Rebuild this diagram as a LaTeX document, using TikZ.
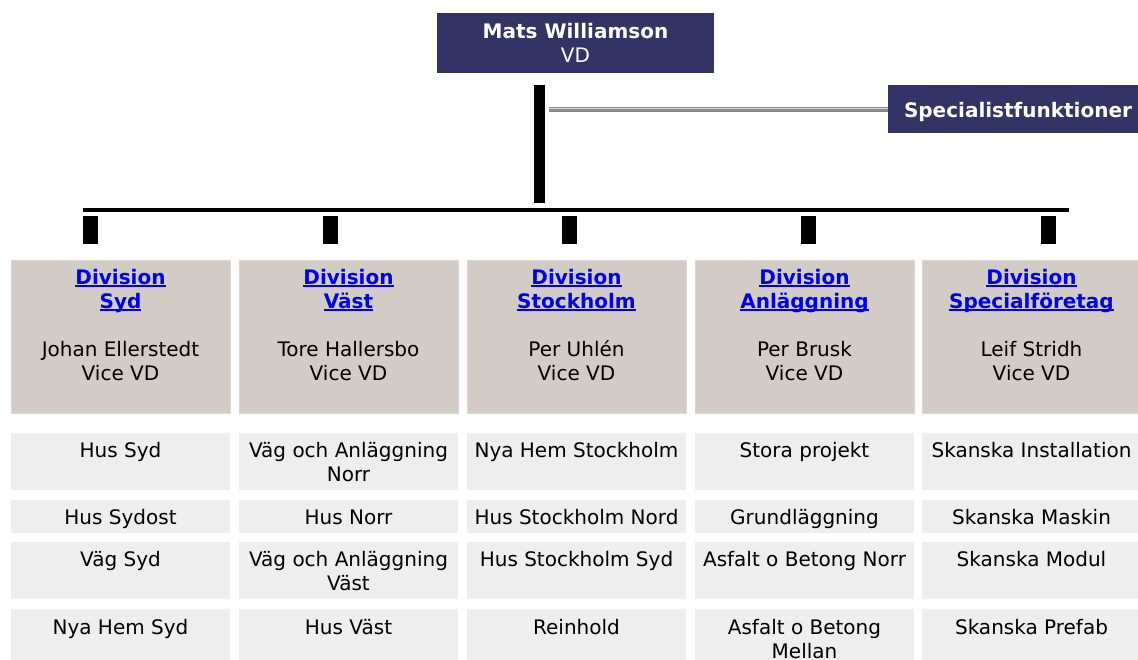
\documentclass[tikz,border=0pt]{standalone}
\usepackage{fontspec}
\setmainfont{DejaVu Sans}
\definecolor{navy}{HTML}{333366}
\definecolor{divfill}{HTML}{D3CBC6}
\definecolor{divedge}{HTML}{DCD6D2}
\definecolor{cellfill}{HTML}{EEEEEE}
\definecolor{linkblue}{HTML}{0000EE}
\definecolor{linkgray}{HTML}{8A8A8A}
\definecolor{linklight}{HTML}{D8D8D8}
\newcommand\cellfont{\fontsize{20}{24}\selectfont}
\newcommand\lnk[1]{{\bfseries\color{linkblue}\setbox0\hbox{#1}\rlap{\rule[-2.4pt]{\wd0}{1.8pt}}\box0}}
\begin{document}
\begin{tikzpicture}[x=1pt,y=-1pt,
  box/.style={anchor=north west, inner sep=0pt, outer sep=0pt, minimum width=219pt},
  headbox/.style={anchor=north west, inner sep=0pt, outer sep=0pt, fill=navy},
  divbox/.style={box, fill=divfill, draw=divedge, line width=1pt, minimum height=153pt},
  cellbox/.style={box, fill=cellfill},
  txt/.style={anchor=north, inner sep=0pt, align=center, font=\cellfont, text=black},
  wtxt/.style={txt, text=white},
  bar/.style={line width=11pt},
  hbar/.style={line width=4pt},
  stub/.style={line width=15pt}]
\clip (0,0) rectangle (1138,659);
\fill[white] (0,0) rectangle (1138,659);

% top boxes
\node[headbox, minimum width=277pt, minimum height=60pt] (ceo) at (437,13) {};
\node[wtxt] (tceo) at ([yshift=-8.8pt]ceo.north) {\strut{\bfseries Mats Williamson}\\\strut VD};
\node[headbox, minimum width=260pt, minimum height=48pt] (spec) at (888,85) {};
\node[wtxt] (tspec) at ([yshift=-15.2pt]spec.north) {\strut\bfseries Specialistfunktioner};

% connectors
\coordinate (vtop) at (539.5,85);
\coordinate (vbot) at (539.5,203);
\draw[bar] (vtop) -- (vbot);
\coordinate (sl) at (549,109.5);
\draw[line width=5pt, linkgray] (sl) -- (sl -| spec.west);
\draw[line width=1pt, linklight] ([yshift=1pt]sl) -- ([yshift=1pt]sl -| spec.west);
\coordinate (hl) at (83,210);
\coordinate (hr) at (1069,210);
\draw[hbar] (hl) -- (hr);
\foreach \i/\x in {1/90.5, 2/330, 3/569.5, 4/808.5, 5/1048} {
  \coordinate (s\i a) at (\x,216);
  \coordinate (s\i b) at (\x,244);
  \draw[stub] (s\i a) -- (s\i b);
}

% boxes
\foreach \i/\x in {1/11, 2/239, 3/467, 4/695, 5/922} {
  \node[divbox] (d\i) at (\x,260) {};
  \node[cellbox, minimum height=57pt] (a\i) at (\x,433) {};
  \node[cellbox, minimum height=33pt] (b\i) at (\x,500) {};
  \node[cellbox, minimum height=57pt] (c\i) at (\x,542) {};
  \node[cellbox, minimum height=60pt] (e\i) at (\x,609) {};
}

% division heads
\node[txt] (td1) at ([yshift=-7.2pt]d1.north) {\strut\lnk{Division}\\\strut\lnk{Syd}\\\strut\\\strut Johan Ellerstedt\\\strut Vice VD};
\node[txt] (td2) at ([yshift=-7.2pt]d2.north) {\strut\lnk{Division}\\\strut\lnk{Väst}\\\strut\\\strut Tore Hallersbo\\\strut Vice VD};
\node[txt] (td3) at ([yshift=-7.2pt]d3.north) {\strut\lnk{Division}\\\strut\lnk{Stockholm}\\\strut\\\strut Per Uhlén\\\strut Vice VD};
\node[txt] (td4) at ([yshift=-7.2pt]d4.north) {\strut\lnk{Division}\\\strut\lnk{Anläggning}\\\strut\\\strut Per Brusk\\\strut Vice VD};
\node[txt] (td5) at ([yshift=-7.2pt]d5.north) {\strut\lnk{Division}\\\strut\lnk{Specialföretag}\\\strut\\\strut Leif Stridh\\\strut Vice VD};

% row 1
\node[txt] (ta1) at ([yshift=-7.5pt]a1.north) {\strut Hus Syd};
\node[txt] (ta2) at ([yshift=-7.5pt]a2.north) {\strut Väg och Anläggning\\\strut Norr};
\node[txt] (ta3) at ([yshift=-7.5pt]a3.north) {\strut Nya Hem Stockholm};
\node[txt] (ta4) at ([yshift=-7.5pt]a4.north) {\strut Stora projekt};
\node[txt] (ta5) at ([yshift=-7.5pt]a5.north) {\strut Skanska Installation};
% row 2
\node[txt] (tb1) at ([yshift=-7pt]b1.north) {\strut Hus Sydost};
\node[txt] (tb2) at ([yshift=-7pt]b2.north) {\strut Hus Norr};
\node[txt] (tb3) at ([yshift=-7pt]b3.north) {\strut Hus Stockholm Nord};
\node[txt] (tb4) at ([yshift=-7pt]b4.north) {\strut Grundläggning};
\node[txt] (tb5) at ([yshift=-7pt]b5.north) {\strut Skanska Maskin};
% row 3
\node[txt] (tc1) at ([yshift=-7.2pt]c1.north) {\strut Väg Syd};
\node[txt] (tc2) at ([yshift=-7.2pt]c2.north) {\strut Väg och Anläggning\\\strut Väst};
\node[txt] (tc3) at ([yshift=-7.2pt]c3.north) {\strut Hus Stockholm Syd};
\node[txt] (tc4) at ([yshift=-7.2pt]c4.north) {\strut Asfalt o Betong Norr};
\node[txt] (tc5) at ([yshift=-7.2pt]c5.north) {\strut Skanska Modul};
% row 4
\node[txt] (te1) at ([yshift=-8pt]e1.north) {\strut Nya Hem Syd};
\node[txt] (te2) at ([yshift=-8pt]e2.north) {\strut Hus Väst};
\node[txt] (te3) at ([yshift=-8pt]e3.north) {\strut Reinhold};
\node[txt] (te4) at ([yshift=-8.5pt]e4.north) {\strut Asfalt o Betong\\Mellan};
\node[txt] (te5) at ([yshift=-8pt]e5.north) {\strut Skanska Prefab};
\end{tikzpicture}
\end{document}
